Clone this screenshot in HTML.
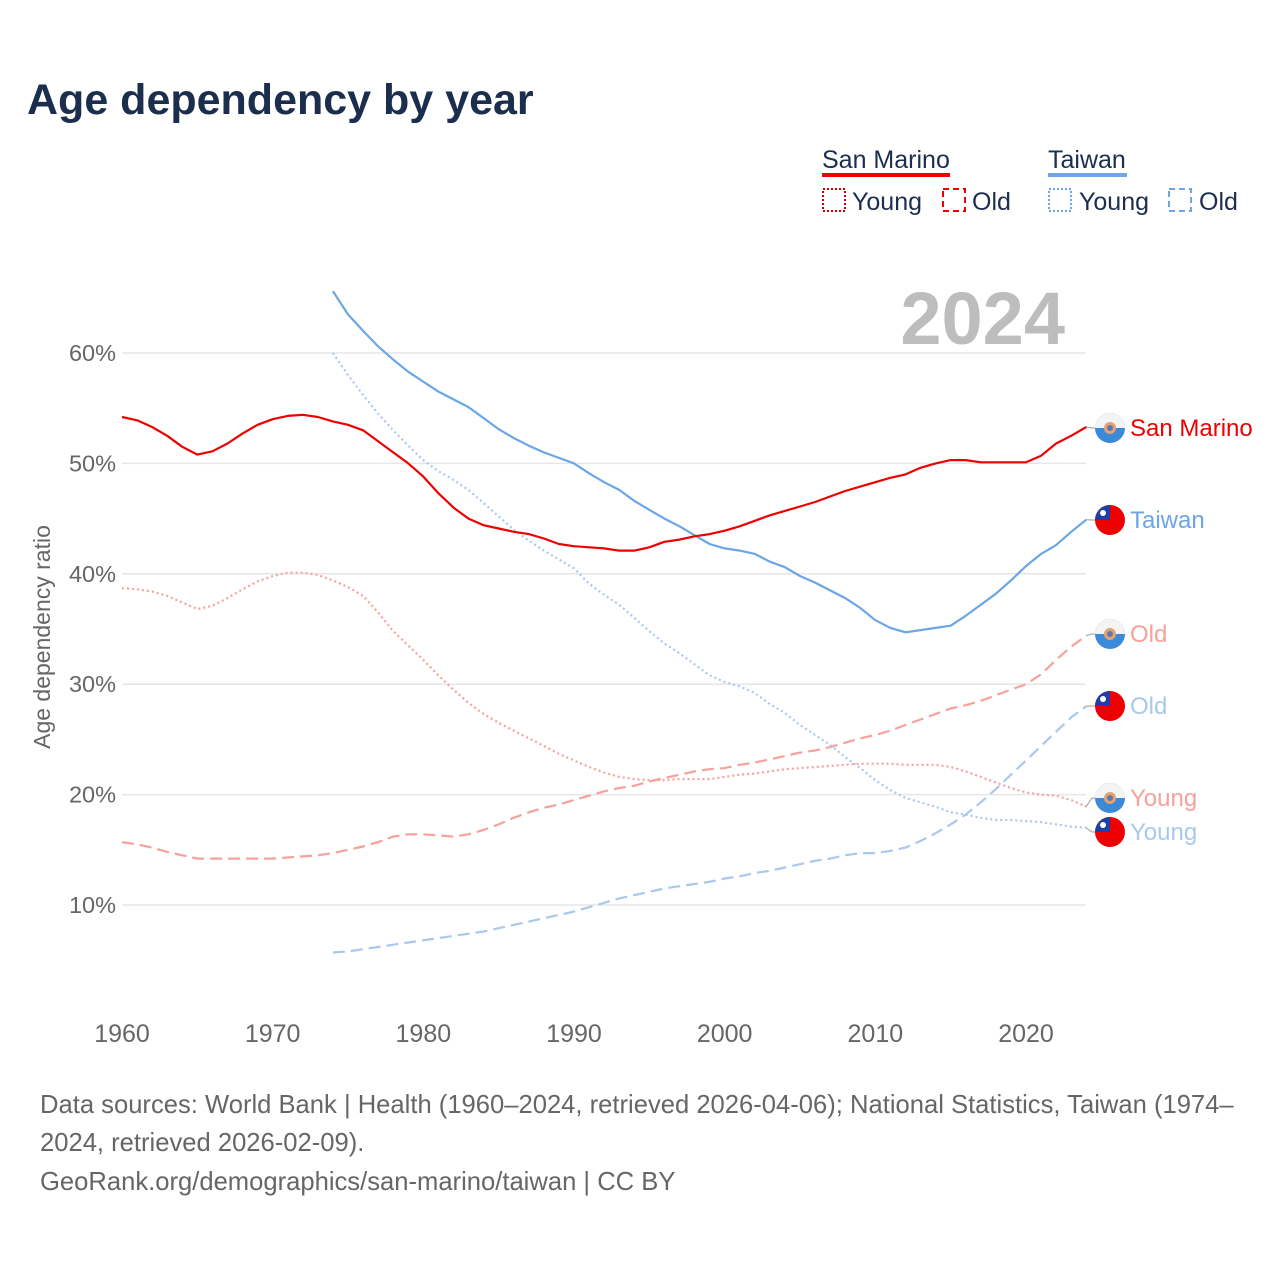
<!DOCTYPE html>
<html><head><meta charset="utf-8"><style>
body{margin:0;background:#fff;font-family:"Liberation Sans",sans-serif;}
svg text{font-family:"Liberation Sans",sans-serif;}
</style></head><body>
<svg id="chart" width="1280" height="1280" viewBox="0 0 1280 1280" xmlns="http://www.w3.org/2000/svg">
<rect width="1280" height="1280" fill="#fff"/>
<text x="27" y="114" font-size="43" font-weight="bold" fill="#1b2e4e">Age dependency by year</text>
<g>
<text x="822" y="168" font-size="25" fill="#1b2e4e">San Marino</text>
<line x1="822" y1="175" x2="950" y2="175" stroke="#ee0000" stroke-width="4"/>
<text x="1048" y="168" font-size="25" fill="#1b2e4e">Taiwan</text>
<line x1="1048" y1="175" x2="1127" y2="175" stroke="#6aa6e8" stroke-width="4"/>
<rect x="823" y="189" width="22" height="22" fill="none" stroke="#cc0000" stroke-width="2" stroke-dasharray="2 2"/>
<text x="852" y="210" font-size="25" fill="#1b2e4e">Young</text>
<rect x="943" y="189" width="22" height="22" fill="none" stroke="#ee0000" stroke-width="2" stroke-dasharray="6 4"/>
<text x="972" y="210" font-size="25" fill="#1b2e4e">Old</text>
<rect x="1049" y="189" width="22" height="22" fill="none" stroke="#6aa6e8" stroke-width="2" stroke-dasharray="2 2"/>
<text x="1079" y="210" font-size="25" fill="#1b2e4e">Young</text>
<rect x="1169" y="189" width="22" height="22" fill="none" stroke="#6aa6e8" stroke-width="2" stroke-dasharray="6 4"/>
<text x="1199" y="210" font-size="25" fill="#1b2e4e">Old</text>
</g>
<text x="1065" y="344" font-size="74" font-weight="bold" fill="#bdbdbd" text-anchor="end">2024</text>
<text transform="translate(50,637) rotate(-90)" font-size="23" fill="#666" text-anchor="middle">Age dependency ratio</text>
<g id="grid"></g><g id="xaxis"></g><g id="series"></g><g id="labels"></g>
<g font-size="25.6" fill="#666">
<text x="40" y="1113">Data sources: World Bank | Health (1960–2024, retrieved 2026-04-06); National Statistics, Taiwan (1974–</text>
<text x="40" y="1151">2024, retrieved 2026-02-09).</text>
<text x="40" y="1190">GeoRank.org/demographics/san-marino/taiwan | CC BY</text>
</g>
</svg>
<script>
const yTicks=[10,20,30,40,50,60];
const xTicks=[1960,1970,1980,1990,2000,2010,2020];
const smYears0=1960, twYears0=1974;
const smTotal=[54.2,53.9,53.3,52.5,51.5,50.8,51.1,51.8,52.7,53.5,54.0,54.3,54.4,54.2,53.8,53.5,53.0,52.0,51.0,50.0,48.8,47.3,46.0,45.0,44.4,44.1,43.8,43.6,43.2,42.7,42.5,42.4,42.3,42.1,42.1,42.4,42.9,43.1,43.4,43.6,43.9,44.3,44.8,45.3,45.7,46.1,46.5,47.0,47.5,47.9,48.3,48.7,49.0,49.6,50.0,50.3,50.3,50.1,50.1,50.1,50.1,50.7,51.8,52.5,53.3];
const smYoung=[38.7,38.6,38.4,38.0,37.4,36.8,37.1,37.8,38.6,39.3,39.8,40.1,40.1,39.9,39.4,38.8,38.0,36.5,34.8,33.5,32.2,30.8,29.5,28.3,27.3,26.5,25.8,25.1,24.4,23.7,23.1,22.5,22.0,21.6,21.4,21.3,21.3,21.4,21.4,21.4,21.6,21.8,21.9,22.1,22.3,22.4,22.5,22.6,22.7,22.8,22.8,22.8,22.7,22.7,22.7,22.5,22.1,21.6,21.1,20.6,20.2,20.0,19.9,19.5,18.9];
const smOld=[15.7,15.5,15.2,14.8,14.5,14.2,14.2,14.2,14.2,14.2,14.2,14.3,14.4,14.5,14.7,15.0,15.3,15.7,16.2,16.4,16.4,16.3,16.2,16.4,16.8,17.3,17.9,18.4,18.8,19.1,19.5,19.9,20.3,20.6,20.8,21.2,21.5,21.8,22.1,22.3,22.4,22.7,22.9,23.2,23.5,23.8,24.0,24.3,24.7,25.1,25.4,25.8,26.3,26.8,27.3,27.8,28.1,28.5,29.0,29.5,30.0,30.9,32.2,33.4,34.4];
const twTotal=[65.6,63.5,62.0,60.6,59.4,58.3,57.4,56.5,55.8,55.1,54.1,53.1,52.3,51.6,51.0,50.5,50.0,49.1,48.3,47.6,46.6,45.8,45.0,44.3,43.5,42.7,42.3,42.1,41.8,41.1,40.6,39.8,39.2,38.5,37.8,36.9,35.8,35.1,34.7,34.9,35.1,35.3,36.2,37.2,38.2,39.4,40.7,41.8,42.6,43.8,44.9];
const twYoung=[60.0,58.0,56.2,54.5,53.0,51.6,50.3,49.3,48.5,47.6,46.4,45.2,44.0,43.0,42.1,41.3,40.5,39.1,38.1,37.2,36.0,34.8,33.7,32.8,31.8,30.8,30.2,29.8,29.2,28.2,27.4,26.3,25.4,24.5,23.4,22.4,21.3,20.4,19.7,19.3,18.9,18.4,18.2,17.9,17.7,17.7,17.6,17.5,17.3,17.1,17.0];
const twOld=[5.7,5.8,6.0,6.2,6.4,6.6,6.8,7.0,7.2,7.4,7.6,7.9,8.2,8.5,8.8,9.1,9.4,9.8,10.2,10.6,10.9,11.2,11.5,11.7,11.9,12.1,12.4,12.6,12.9,13.1,13.4,13.7,14.0,14.2,14.5,14.7,14.7,14.9,15.2,15.8,16.5,17.3,18.2,19.3,20.5,21.8,23.1,24.4,25.7,27.0,28.0];

const NS="http://www.w3.org/2000/svg";
const X=yr=>122+(yr-1960)*(904/60);
const Y=v=>1015.4-v*11.04;
function mk(tag,attrs,parent){const e=document.createElementNS(NS,tag);for(const k in attrs)e.setAttribute(k,attrs[k]);parent.appendChild(e);return e;}
const grid=document.getElementById('grid');
yTicks.forEach(t=>{
  const l=mk('line',{x1:122,x2:1086,y1:Y(t),y2:Y(t),stroke:'#e6e6e6','stroke-width':1.5},grid);
  
  
  const tx=mk('text',{x:116,y:Y(t)+8,'font-size':23.5,fill:'#666','text-anchor':'end'},grid);
  tx.textContent=t+'%';
  
  
});
const xa=document.getElementById('xaxis');
xTicks.forEach(t=>{
  const tx=mk('text',{x:X(t),y:1042,'font-size':25,fill:'#666','text-anchor':'middle'},xa);
  tx.textContent=t;
  
  
});
const ser=document.getElementById('series');
function line(data,y0,color,dash,w,name){
  const d=data.map((v,i)=>(i?'L':'M')+X(y0+i).toFixed(1)+','+Y(v).toFixed(1)).join(' ');
  const p=mk('path',{d:d,fill:'none',stroke:color,'stroke-width':w,'stroke-dasharray':dash,'stroke-linejoin':'round'},ser);
  
  
}
line(smOld,smYears0,'#f7a19a','12 6',2.2,'line-san-marino-old');
line(twOld,twYears0,'#a9c8ee','12 6',2.2,'line-taiwan-old');
line(smYoung,smYears0,'#f7a19a','2 3',2.2,'line-san-marino-young');
line(twYoung,twYears0,'#a9c8ee','2 3',2.2,'line-taiwan-young');
line(twTotal,twYears0,'#6aa6e8','none',2.2,'line-taiwan-total');
line(smTotal,smYears0,'#ee0000','none',2.2,'line-san-marino-total');

const lab=document.getElementById('labels');
function flag(cx,cy,country,parent){
  const g=mk('g',{},parent);
  if(country==='sm'){
    mk('circle',{cx:cx,cy:cy,r:15,fill:'#3a8ad8'},g);
    mk('path',{d:`M${cx-15},${cy} A15,15 0 0 1 ${cx+15},${cy} Z`,fill:'#f4f4f4'},g);
    mk('circle',{cx:cx,cy:cy,r:6,fill:'#e8a070'},g);
    mk('circle',{cx:cx,cy:cy,r:3,fill:'#5a7ab0'},g);
  } else {
    mk('circle',{cx:cx,cy:cy,r:15,fill:'#ee0000'},g);
    mk('path',{d:`M${cx-15},${cy} A15,15 0 0 1 ${cx},${cy-15} L${cx},${cy} Z`,fill:'#1f3fa8'},g);
    mk('circle',{cx:cx-7,cy:cy-7,r:3,fill:'#fff'},g);
  }
  return g;
}
const endLabels=[
 ['San Marino',smTotal,428,'sm','#ee0000'],
 ['Taiwan',twTotal,520,'tw','#6aa6e8'],
 ['Old',smOld,634,'sm','#f7a19a'],
 ['Old',twOld,706,'tw','#a9c8ee'],
 ['Young',smYoung,798,'sm','#f7a19a'],
 ['Young',twYoung,832,'tw','#a9c8ee']];
endLabels.forEach((e,i)=>{
  const yv=Y(e[1][e[1].length-1]);
  mk('path',{d:`M1086,${yv} L1092,${e[2]} L1100,${e[2]}`,fill:'none',stroke:'#999','stroke-width':1},lab);
  const f=flag(1110,e[2],e[3],lab);
  
  
  const t=mk('text',{x:1130,y:e[2]+8,'font-size':24,fill:e[4]},lab);
  t.textContent=e[0];
  
  
});
</script>
</body></html>
